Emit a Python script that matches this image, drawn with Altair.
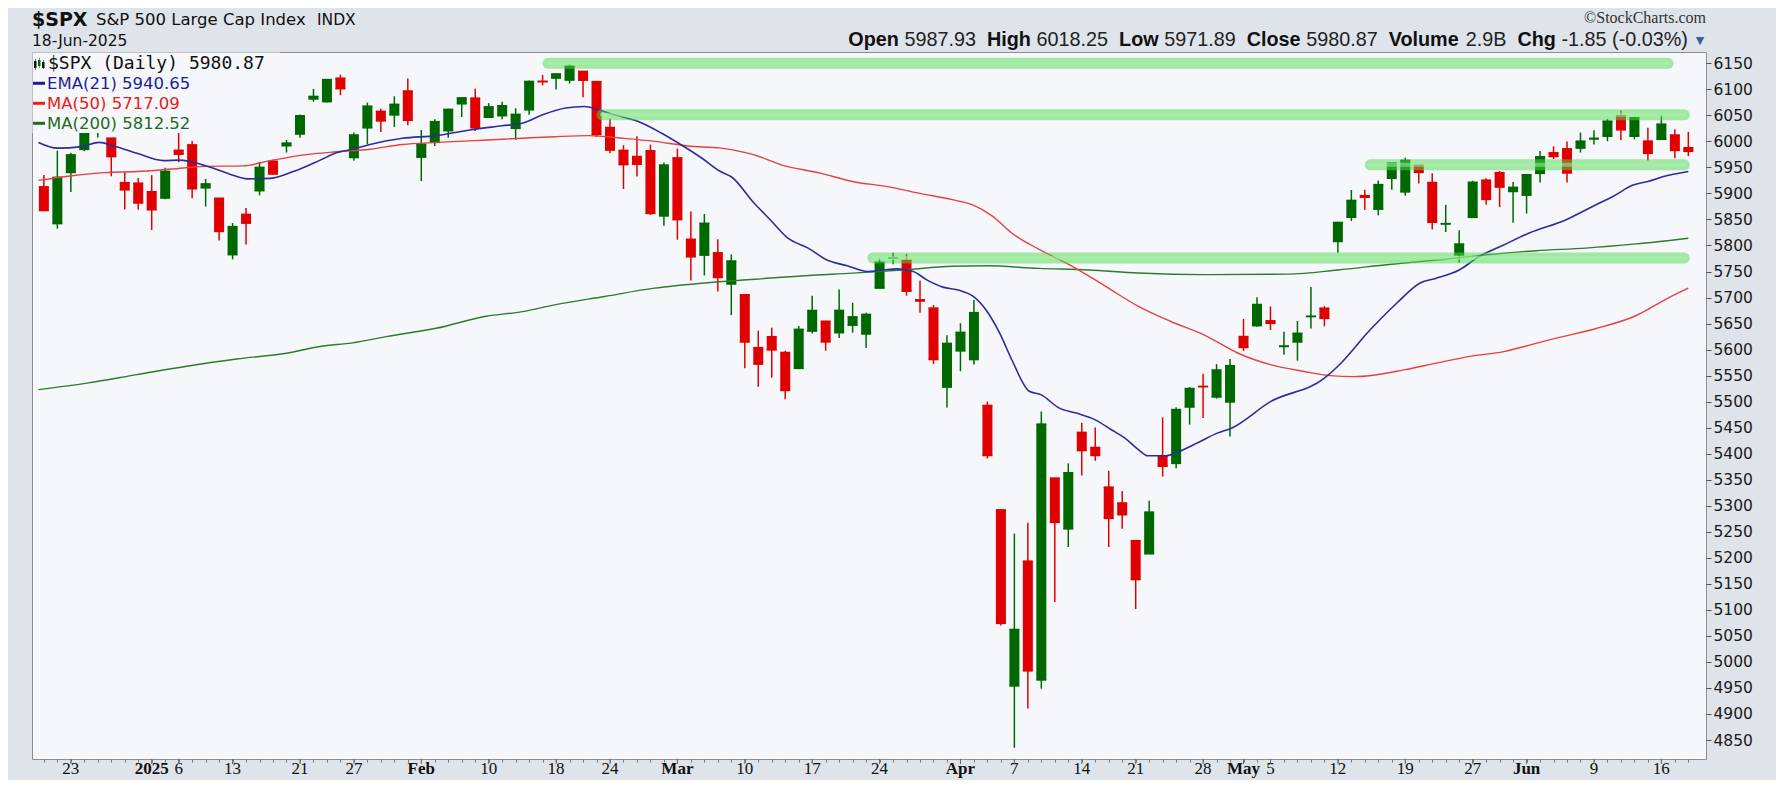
import altair as alt
import pandas as pd

# ---------------- data ----------------
dates = [
    "2024-12-19", "2024-12-20", "2024-12-23", "2024-12-24", "2024-12-26", "2024-12-27", "2024-12-30", "2024-12-31",
    "2025-01-02", "2025-01-03", "2025-01-06", "2025-01-07", "2025-01-08", "2025-01-10", "2025-01-13", "2025-01-14",
    "2025-01-15", "2025-01-16", "2025-01-17", "2025-01-21", "2025-01-22", "2025-01-23", "2025-01-24", "2025-01-27",
    "2025-01-28", "2025-01-29", "2025-01-30", "2025-01-31",
    "2025-02-03", "2025-02-04", "2025-02-05", "2025-02-06", "2025-02-07", "2025-02-10", "2025-02-11", "2025-02-12",
    "2025-02-13", "2025-02-14", "2025-02-18", "2025-02-19", "2025-02-20", "2025-02-21", "2025-02-24", "2025-02-25",
    "2025-02-26", "2025-02-27", "2025-02-28",
    "2025-03-03", "2025-03-04", "2025-03-05", "2025-03-06", "2025-03-07", "2025-03-10", "2025-03-11", "2025-03-12",
    "2025-03-13", "2025-03-14", "2025-03-17", "2025-03-18", "2025-03-19", "2025-03-20", "2025-03-21", "2025-03-24",
    "2025-03-25", "2025-03-26", "2025-03-27", "2025-03-28", "2025-03-31",
    "2025-04-01", "2025-04-02", "2025-04-03", "2025-04-04", "2025-04-07", "2025-04-08", "2025-04-09", "2025-04-10",
    "2025-04-11", "2025-04-14", "2025-04-15", "2025-04-16", "2025-04-17", "2025-04-21", "2025-04-22", "2025-04-23",
    "2025-04-24", "2025-04-25", "2025-04-28", "2025-04-29", "2025-04-30",
    "2025-05-01", "2025-05-02", "2025-05-05", "2025-05-06", "2025-05-07", "2025-05-08", "2025-05-09", "2025-05-12",
    "2025-05-13", "2025-05-14", "2025-05-15", "2025-05-16", "2025-05-19", "2025-05-20", "2025-05-21", "2025-05-22",
    "2025-05-23", "2025-05-27", "2025-05-28", "2025-05-29", "2025-05-30",
    "2025-06-02", "2025-06-03", "2025-06-04", "2025-06-05", "2025-06-06", "2025-06-09", "2025-06-10", "2025-06-11",
    "2025-06-12", "2025-06-13", "2025-06-16", "2025-06-17", "2025-06-18",
]

opens = [
    5912.7, 5842.0, 5940.3, 5984.6, 6024.9, 6006.2, 5920.7, 5919.7,
    5903.3, 5891.1, 5982.8, 5993.3, 5910.7, 5890.7, 5782.3, 5859.8, 5905.2, 5961.8, 5991.6, 6014.1, 6081.4, 6076.3,
    6121.4, 5969.0, 6026.0, 6057.7, 6050.8, 6096.8,
    5969.7, 5998.1, 6020.5, 6072.2, 6083.1, 6046.4, 6049.3, 6025.1, 6060.6, 6115.5, 6121.6, 6117.8, 6134.5, 6114.8,
    6026.7, 5982.7, 5970.9, 5981.9, 5856.7,
    5968.3, 5811.9, 5781.4, 5785.9, 5726.0, 5705.4, 5603.7, 5624.8, 5594.5, 5563.9, 5635.6, 5654.5, 5632.4, 5646.9,
    5630.0, 5718.1, 5775.9, 5771.7, 5695.6, 5679.8, 5527.9,
    5597.5, 5580.8, 5492.7, 5292.1, 4953.8, 5193.6, 4965.3, 5353.2, 5255.6, 5441.0, 5412.0, 5335.8, 5305.4, 5232.9,
    5207.7, 5395.9, 5381.4, 5489.7, 5529.2, 5508.9, 5499.4,
    5625.1, 5645.9, 5655.3, 5605.9, 5614.6, 5663.5, 5679.5, 5807.7, 5854.2, 5895.7, 5869.8, 5929.1, 5902.9, 5954.2,
    5921.0, 5841.3, 5781.9, 5854.1, 5925.5, 5939.9, 5903.7,
    5896.7, 5938.6, 5978.1, 5985.7, 5987.1, 6004.6, 6009.9, 6049.4, 6009.9, 6000.6, 6004.0, 6012.2, 5987.9,
]
highs = [
    5935.5, 5982.1, 5978.3, 6040.1, 6049.8, 6006.2, 5940.8, 5929.7,
    5935.1, 5949.3, 6021.0, 6000.7, 5927.9, 5890.7, 5843.1, 5871.9, 5960.6, 5964.7, 6002.7, 6051.5, 6100.8, 6118.7,
    6128.2, 6017.2, 6074.5, 6062.8, 6086.6, 6120.9,
    6022.1, 6042.5, 6062.9, 6084.0, 6101.3, 6073.4, 6076.3, 6063.6, 6116.9, 6127.5, 6129.6, 6147.4, 6134.5, 6114.8,
    6043.7, 5992.7, 6009.8, 5993.7, 5959.4,
    5986.1, 5865.1, 5860.6, 5812.1, 5783.0, 5705.4, 5636.3, 5642.2, 5597.8, 5645.3, 5703.5, 5654.5, 5715.3, 5690.0,
    5670.8, 5775.1, 5786.0, 5783.9, 5732.3, 5685.9, 5627.6,
    5650.6, 5695.3, 5500.4, 5292.1, 5246.6, 5267.5, 5481.3, 5353.2, 5381.5, 5459.5, 5450.4, 5367.2, 5328.3, 5232.9,
    5309.6, 5469.7, 5489.4, 5528.1, 5553.7, 5572.0, 5581.8,
    5658.9, 5700.7, 5683.0, 5634.5, 5654.9, 5720.1, 5683.4, 5845.6, 5906.6, 5906.9, 5924.8, 5958.6, 5968.6, 5954.3,
    5938.8, 5878.1, 5829.5, 5924.3, 5929.2, 5943.1, 5922.1,
    5937.4, 5981.4, 5990.5, 5999.7, 6016.9, 6021.3, 6043.0, 6059.4, 6045.4, 6026.2, 6050.8, 6023.3, 6018.3,
]
lows = [
    5866.1, 5832.3, 5902.6, 5981.4, 6007.4, 5932.9, 5869.2, 5868.9,
    5829.5, 5888.7, 5960.0, 5890.7, 5874.8, 5809.4, 5773.3, 5801.9, 5896.5, 5935.2, 5978.6, 6006.9, 6076.1, 6074.7,
    6088.7, 5962.9, 5994.6, 6018.1, 6027.5, 6030.9,
    5923.9, 5990.9, 6007.1, 6046.8, 6019.9, 6044.8, 6042.3, 6003.0, 6051.0, 6107.6, 6099.5, 6111.1, 6084.6, 6008.6,
    5977.4, 5908.5, 5932.7, 5858.8, 5837.7,
    5810.9, 5732.6, 5742.4, 5711.6, 5666.3, 5564.0, 5528.4, 5546.1, 5504.7, 5563.9, 5631.1, 5597.8, 5622.2, 5632.7,
    5603.1, 5718.1, 5763.9, 5703.6, 5670.9, 5572.4, 5488.7,
    5558.5, 5571.5, 5390.8, 5069.9, 4835.0, 4910.4, 4948.4, 5115.3, 5220.8, 5358.0, 5386.4, 5220.8, 5255.6, 5101.6,
    5207.7, 5356.2, 5371.9, 5455.9, 5468.6, 5505.7, 5433.2,
    5597.4, 5644.0, 5637.7, 5590.0, 5578.6, 5640.3, 5644.6, 5786.1, 5846.9, 5868.0, 5857.9, 5907.1, 5895.7, 5919.3,
    5830.9, 5825.8, 5767.4, 5853.8, 5878.1, 5873.8, 5843.7,
    5861.4, 5921.1, 5966.1, 5921.2, 5978.6, 5994.2, 6000.3, 6002.3, 6003.9, 5963.2, 6004.0, 5967.8, 5971.9,
]
closes = [
    5867.1, 5930.9, 5974.1, 6040.0, 6037.6, 5970.8, 5906.9, 5881.6,
    5868.6, 5942.5, 5975.4, 5909.0, 5918.3, 5827.0, 5836.2, 5842.9, 5950.0, 5937.3, 5996.7, 6049.2, 6086.4, 6118.7,
    6101.2, 6012.3, 6067.7, 6039.3, 6071.2, 6040.5,
    5994.6, 6037.9, 6061.5, 6083.6, 6026.0, 6066.4, 6068.5, 6051.9, 6115.1, 6114.6, 6129.6, 6144.2, 6117.5, 6013.1,
    5983.3, 5955.3, 5956.1, 5861.6, 5954.5,
    5849.7, 5778.2, 5842.6, 5738.5, 5770.2, 5614.6, 5572.1, 5599.3, 5521.5, 5638.9, 5675.1, 5614.7, 5675.3, 5662.9,
    5667.6, 5767.6, 5776.7, 5712.2, 5693.3, 5580.9, 5611.9,
    5633.1, 5671.0, 5396.5, 5074.1, 5062.3, 4982.8, 5456.9, 5268.1, 5363.4, 5406.0, 5396.6, 5275.7, 5282.7, 5158.2,
    5287.8, 5375.9, 5484.8, 5525.2, 5528.8, 5560.8, 5569.1,
    5604.1, 5686.7, 5650.4, 5606.9, 5631.3, 5663.9, 5659.9, 5844.2, 5886.6, 5892.6, 5916.9, 5958.4, 5963.6, 5940.5,
    5844.6, 5842.0, 5802.8, 5921.5, 5888.6, 5912.2, 5911.7,
    5935.9, 5970.4, 5970.8, 5939.3, 6000.4, 6005.9, 6038.8, 6022.2, 6045.3, 5977.0, 6033.1, 5982.7, 5980.9,
]

# moving averages (position = trading-day number, 0 = 19-Dec-2024)
ema21_pos = [-0.4, 1.0, 2.8, 4.1, 5.2, 6.9, 8.9, 10.0, 10.9, 12.4,
             13.9, 15.1, 16.8, 18.5, 20.5, 21.7, 22.9, 24.2, 26.6, 29.1,
             31.6, 34.0, 35.5, 37.0, 38.7, 40.1, 41.2, 42.3, 44.1, 45.8,
             47.3, 48.8, 50.2, 51.0, 52.7, 53.9, 55.2, 56.7, 58.1, 59.6,
             61.1, 62.3, 63.3, 64.5, 65.5, 66.7, 67.9, 68.9, 69.9, 70.9,
             71.8, 73.1, 74.0, 75.3, 76.6, 78.0, 79.2, 80.2, 81.2, 81.9,
             83.2, 84.2, 85.6, 87.1, 88.1, 91.0, 95.0, 96.0, 98.4, 100.4,
             102.1, 103.3, 105.0, 106.5, 108.3, 110.2, 112.9, 114.9, 116.4, 117.9,
             119.0, 120.1, 122.0]
ema21_val = [5998, 5987, 5990, 5998, 5991, 5977, 5963, 5964, 5961, 5950,
             5936, 5928, 5929, 5942, 5964, 5978, 5985, 5994, 6006, 6011,
             6022, 6030, 6035, 6051, 6064, 6067, 6060, 6051, 6038, 6016,
             5993, 5968, 5942, 5932, 5881, 5849, 5814, 5795, 5772, 5761,
             5750, 5753, 5755, 5750, 5734, 5720, 5714, 5703, 5676, 5632,
             5581, 5520, 5513, 5488, 5478, 5465, 5446, 5430, 5408, 5396,
             5396, 5404, 5421, 5440, 5449, 5500, 5545, 5568, 5638, 5690,
             5728, 5737, 5753, 5779, 5801, 5824, 5849, 5875, 5894, 5916,
             5923, 5932, 5942]

ma50_pos = [-0.4, 2.1, 4.5, 6.9, 9.5, 11.9, 14.8, 16.8, 19.3, 21.7,
            24.2, 26.6, 29.1, 31.6, 34.0, 35.5, 37.9, 40.4, 42.9, 45.3,
            47.8, 50.2, 52.7, 54.7, 57.6, 60.0, 62.6, 65.0, 67.4, 68.9,
            70.4, 71.8, 73.8, 76.3, 78.8, 81.2, 83.6, 86.1, 88.6, 91.0,
            93.5, 95.4, 97.2, 100.9, 103.3, 105.8, 108.3, 110.7, 112.2, 115.1,
            118.1, 120.5, 122.0]
ma50_val = [5925, 5934, 5940, 5942, 5947, 5952, 5953, 5963, 5974, 5980,
            5985, 5994, 5998, 6001, 6004, 6006, 6009, 6011, 6006, 6000,
            5991, 5987, 5974, 5955, 5939, 5923, 5913, 5900, 5888, 5878,
            5856, 5824, 5793, 5760, 5721, 5683, 5654, 5628, 5593, 5571,
            5558, 5550, 5548, 5561, 5574, 5587, 5596, 5612, 5622, 5640,
            5665, 5699, 5718]

ma200_pos = [-0.4, 3.3, 6.9, 10.6, 14.3, 18.0, 20.5, 22.9, 25.4, 29.1,
             32.8, 35.5, 37.9, 41.6, 45.3, 49.0, 52.7, 56.4, 60.0, 63.7,
             67.4, 69.9, 73.8, 77.5, 81.2, 86.1, 92.3, 96.0, 99.6, 103.3,
             107.0, 110.7, 114.4, 118.1, 122.0]
ma200_val = [5523, 5536, 5552, 5568, 5582, 5593, 5606, 5613, 5625, 5641,
             5664, 5673, 5686, 5702, 5718, 5728, 5735, 5742, 5747, 5753,
             5760, 5761, 5756, 5753, 5747, 5744, 5745, 5753, 5763, 5772,
             5782, 5790, 5795, 5803, 5814]

# green highlight bands: price level, first and last trading-day number
band_level = [6150, 6051, 5955, 5776]
band_start = [37.4, 41.4, 98.4, 61.5]
band_end = [120.5, 121.7, 121.7, 121.7]

# x-axis labels
label_dates = ["2024-12-23", "2025-01-02", "2025-01-06", "2025-01-13", "2025-01-21", "2025-01-27",
               "2025-02-03", "2025-02-10", "2025-02-18", "2025-02-24", "2025-03-03", "2025-03-10",
               "2025-03-17", "2025-03-24", "2025-04-01", "2025-04-07", "2025-04-14", "2025-04-21",
               "2025-04-28", "2025-05-01", "2025-05-05", "2025-05-12", "2025-05-19", "2025-05-27",
               "2025-06-02", "2025-06-09", "2025-06-16"]
label_texts = ["23", "2025", "6", "13", "21", "27", "Feb", "10", "18", "24", "Mar", "10", "17", "24",
               "Apr", "7", "14", "21", "28", "May", "5", "12", "19", "27", "Jun", "9", "16"]
label_bold = [False, True, False, False, False, False, True, False, False, False, True, False, False, False,
              True, False, False, False, False, True, False, False, False, False, True, False, False]

y_ticks = list(range(4850, 6151, 50))

# ---------------- styling ----------------
W, H = 1674, 707
BG = "#dfe3ea"
PLOTBG = "#f6f7fa"
GREEN = "#006800"
RED = "#e10000"
EMA_C = "#2c2c9c"
MA50_C = "#e8403e"
MA200_C = "#2e7b2e"

xs = alt.Scale(domain=[-0.51, 122.94], nice=False, zero=False)
ys = alt.Scale(domain=[4813.5, 6171.7], nice=False, zero=False)

xaxis = alt.Axis(values=list(range(len(dates))), labels=False, title=None, tickSize=3,
                 tickColor="#777777", domain=False, grid=False)
yaxis = alt.Axis(orient="right", values=y_ticks, format="d", title=None, grid=False, domain=False,
                 tickSize=5, tickColor="#555555", labelFont="DejaVu Sans", labelFontSize=15.5,
                 labelColor="#1a1a1a", labelPadding=2, labelOverlap=False, labelFlush=False)


def X(field):
    return alt.X(field, type="quantitative", scale=xs, axis=xaxis)


def Y(field):
    return alt.Y(field, type="quantitative", scale=ys, axis=yaxis)


df = pd.DataFrame({"d": list(range(len(dates))), "date": dates,
                   "open": opens, "high": highs, "low": lows, "close": closes})
col = alt.condition("datum.close >= datum.open", alt.value(GREEN), alt.value(RED))

base = alt.Chart(df)
wicks = base.mark_rule(strokeWidth=1.5).encode(x=X("d"), y=Y("low"), y2="high:Q", color=col)
bodies = base.mark_bar(width=10).encode(x=X("d"), y=Y("open"), y2="close:Q", color=col)
hline = "M -1 0 L 1 0"
open_tick = base.mark_point(shape=hline, size=100, strokeWidth=1.5, filled=False, opacity=1).encode(
    x=X("d"), y=Y("open"), color=col)
close_tick = base.mark_point(shape=hline, size=100, strokeWidth=1.5, filled=False, opacity=1).encode(
    x=X("d"), y=Y("close"), color=col)


def ma_line(pos, val, color, width):
    return alt.Chart(pd.DataFrame({"d": pos, "v": val})).mark_line(
        color=color, strokeWidth=width, interpolate="monotone").encode(x=X("d"), y=Y("v"))


ma200 = ma_line(ma200_pos, ma200_val, MA200_C, 1.4)
ma50 = ma_line(ma50_pos, ma50_val, MA50_C, 1.4)
ema = ma_line(ema21_pos, ema21_val, EMA_C, 1.6)

bands_df = pd.DataFrame({"lvl": band_level, "d0": band_start, "d1": band_end})
band_outer = alt.Chart(bands_df).mark_rule(strokeWidth=11, strokeCap="round", color="#4ed84e", opacity=0.5).encode(
    x=X("d0"), x2="d1:Q", y=Y("lvl"))
band_inner = alt.Chart(bands_df).mark_rule(strokeWidth=4, strokeCap="round", color="#a6f4a6", opacity=0.5).encode(
    x=X("d0"), x2="d1:Q", y=Y("lvl"))

one = pd.DataFrame({"a": [0]})

legend_box = alt.Chart(one).mark_rect(color=PLOTBG).encode(
    x=alt.value(0.5), x2=alt.value(248), y=alt.value(0.5), y2=alt.value(81))


def txt(s, x, y, size, font="DejaVu Sans", weight="normal", color="#111111", align="left"):
    return alt.Chart(one).mark_text(font=font, fontSize=size, fontWeight=weight, color=color,
                                    align=align, baseline="alphabetic").encode(
        x=alt.value(x), y=alt.value(y), text=alt.value(s))


def box(x0, x1, y0, y1, color):
    return alt.Chart(one).mark_rect(color=color).encode(
        x=alt.value(x0), x2=alt.value(x1), y=alt.value(y0), y2=alt.value(y1))


def dash(y, color):
    return alt.Chart(one).mark_rule(color=color, strokeWidth=3).encode(
        x=alt.value(1), x2=alt.value(13), y=alt.value(y))


legend = [
    box(2, 4.5, 9, 16, "#111111"), box(3, 3.6, 7, 18, "#111111"),
    box(6, 8.5, 8, 14, "#006800"), box(7, 7.6, 6, 16, "#006800"),
    box(10, 12.5, 10, 16, "#111111"), box(11, 11.6, 8, 17, "#111111"),
    txt("$SPX (Daily) 5980.87", 16, 17.3, 18, font="DejaVu Sans Mono", color="#111111"),
    dash(31.3, "#1d1d9a"), txt("EMA(21) 5940.65", 15, 37.3, 16.5, color="#1d1d9a"),
    dash(51.3, "#e82020"), txt("MA(50) 5717.09", 15, 57.3, 16.5, color="#e82020"),
    dash(71.3, "#1f6b1f"), txt("MA(200) 5812.52", 15, 77.3, 16.5, color="#1f6b1f"),
]

# ---------------- header (outside the plot area) ----------------
header = [
    txt("$SPX", 0, -26, 19, weight="bold", color="#111111"),
    txt("S&P 500 Large Cap Index", 64, -27, 16.5, color="#111111"),
    txt("INDX", 285, -27, 15.5, color="#111111"),
    txt("18-Jun-2025", 0, -6.3, 15.5, color="#111111"),
    txt("\u00a9StockCharts.com", 1674, -29, 16, font="Liberation Sans Narrow", color="#333333", align="right"),
]

REG = {".": .278, " ": .278, "(": .333, ")": .333, "%": .889, "-": .333, "B": .667}
BOLD = {"O": .778, "p": .611, "e": .556, "n": .611, "H": .722, "i": .278, "g": .611, "h": .611,
        "L": .611, "o": .611, "w": .778, "C": .722, "l": .278, "s": .556, "V": .667, "u": .611,
        "m": .889, "c": .556, " ": .278}


def width(s, bold, size):
    t = 0.0
    for ch in s:
        t += (BOLD.get(ch, .6) if bold else (0.556 if ch.isdigit() else REG.get(ch, .556)))
    return t * size


pieces = [("Open ", True), ("5987.93  ", False), ("High ", True), ("6018.25  ", False),
          ("Low ", True), ("5971.89  ", False), ("Close ", True), ("5980.87  ", False),
          ("Volume ", True), ("2.9B  ", False), ("Chg ", True), ("-1.85 (-0.03%)", False)]
FS = 19.8
total = sum(width(s, b, FS) for s, b in pieces)
xcur = 1656 - total
for s, b in pieces:
    header.append(txt(s.rstrip(), xcur, -6.5, FS, font="Liberation Sans",
                      weight="bold" if b else "normal", color="#111111" if b else "#222222"))
    xcur += width(s, b, FS)
header.append(txt("\u25bc", 1668, -8, 11, color="#3d5f9c", align="center"))

# ---------------- x-axis labels ----------------
lab = pd.DataFrame({"d": [dates.index(s) for s in label_dates], "t": label_texts, "b": label_bold})
lab_reg = alt.Chart(lab).transform_filter("!datum.b").mark_text(
    font="Liberation Sans Narrow", fontSize=17, color="#111111", baseline="middle").encode(
    x=X("d"), y=alt.value(H + 10), text="t:N")
lab_bold = alt.Chart(lab).transform_filter("datum.b").mark_text(
    font="Liberation Sans Narrow", fontSize=17, fontWeight="bold", color="#111111", baseline="middle").encode(
    x=X("d"), y=alt.value(H + 10), text="t:N")
major_ticks = alt.Chart(lab).mark_rule(color="#666666", strokeWidth=1).encode(
    x=X("d"), y=alt.value(H), y2=alt.value(H + 5))

chart = alt.layer(
    wicks, bodies, open_tick, close_tick, ma200, ma50, ema, band_outer, band_inner,
    legend_box, *legend, *header, lab_reg, lab_bold, major_ticks,
).properties(
    width=W, height=H, background=BG,
    padding={"left": 24, "top": 44, "right": 70, "bottom": 21},
    autosize=alt.AutoSizeParams(type="none"),
).configure_view(fill=PLOTBG, stroke="#8c8c8c", strokeWidth=1)

chart.save("out.html", embed_options={"renderer": "svg", "actions": False})
